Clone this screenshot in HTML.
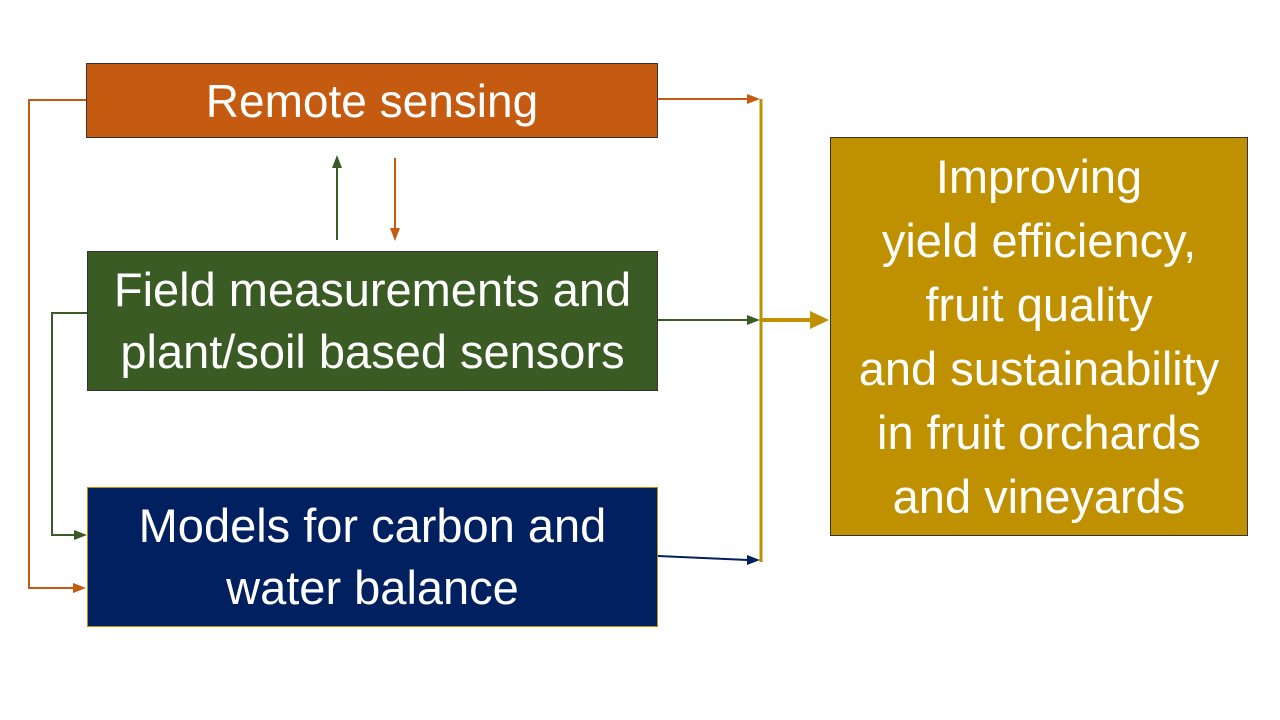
<!DOCTYPE html>
<html><head><meta charset="utf-8"><style>
body{margin:0;width:1280px;height:720px;background:#fff;position:relative;overflow:hidden;font-family:"Liberation Sans",sans-serif}
.b{position:absolute;color:#fff;display:flex;flex-direction:column;align-items:center;justify-content:center;text-align:center;box-sizing:border-box;font-size:46px;line-height:64px;white-space:nowrap}
</style></head><body>
<div class="b" style="left:86px;top:63px;width:572px;height:75px;background:#c55a11;border:1px solid #333;font-size:46px">Remote sensing</div>
<div class="b" style="left:87px;top:251px;width:571px;height:140px;background:#3b5b25;border:1px solid #333;line-height:62px;font-size:47px">Field measurements and<br>plant/soil based sensors</div>
<div class="b" style="left:87px;top:487px;width:571px;height:140px;background:#002060;border:1px solid #bf9000;line-height:62px;font-size:47px">Models for carbon and<br>water balance</div>
<div class="b" style="left:830px;top:137px;width:418px;height:399px;background:#bf9000;border:1px solid #333;font-size:47px">Improving<br>yield efficiency,<br>fruit quality<br>and sustainability<br>in fruit orchards<br>and vineyards</div>
<svg width="1280" height="720" style="position:absolute;left:0;top:0">
<g fill="none" stroke-width="2">
<polyline points="86,100 29,100 29,588 74,588" stroke="#c55a11"/>
<polyline points="87,313 52,313 52,535 74,535" stroke="#3b5b25"/>
<line x1="337" y1="240" x2="337" y2="166" stroke="#3b5b25"/>
<line x1="395" y1="158" x2="395" y2="230" stroke="#c55a11"/>
<line x1="658" y1="99" x2="748" y2="99" stroke="#c55a11"/>
<line x1="658" y1="320" x2="748" y2="320" stroke="#3b5b25"/>
<line x1="658" y1="556" x2="748" y2="560" stroke="#002060"/>
<line x1="761" y1="99" x2="761" y2="562" stroke="#bf9000" stroke-width="3"/>
<line x1="761" y1="320" x2="812" y2="320" stroke="#bf9000" stroke-width="4"/>
</g>
<polygon points="86,588 73,583 73,593" fill="#c55a11"/>
<polygon points="87,535 74,530 74,540" fill="#3b5b25"/>
<polygon points="337,155 332,168 342,168" fill="#3b5b25"/>
<polygon points="395,241 390,228 400,228" fill="#c55a11"/>
<polygon points="760,99 747,94 747,104" fill="#c55a11"/>
<polygon points="760,320 747,315 747,325" fill="#3b5b25"/>
<polygon points="760,560 747,555 747,565" fill="#002060"/>
<polygon points="829,320 810,311 810,329" fill="#bf9000"/>
</svg>
</body></html>
